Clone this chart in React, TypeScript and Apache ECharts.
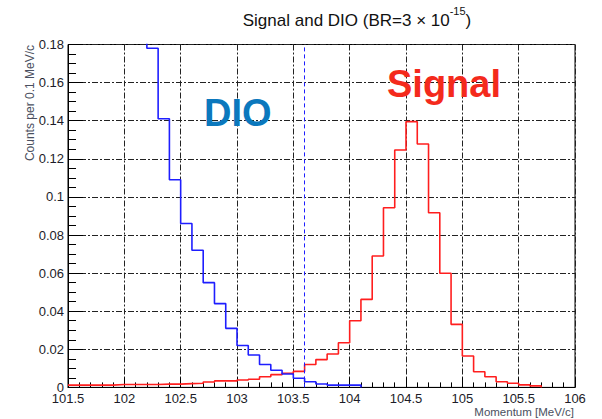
import React, { useEffect, useRef } from "react";
import * as echarts from "echarts";

// Histogram bins (0.1 MeV/c wide), values per bin
const binWidth = 0.1;
const signalStart = 101.5;
const signalValues = [
  0.0012, 0.0012, 0.0012, 0.0012, 0.0015, 0.0015, 0.0015, 0.0015, 0.0017, 0.0017,
  0.002, 0.0022, 0.0028, 0.0034, 0.0034, 0.0039, 0.0043, 0.0056, 0.0067, 0.0074,
  0.0084, 0.012, 0.0146, 0.0175, 0.0234, 0.035, 0.0462, 0.069, 0.0943, 0.1246,
  0.1395, 0.1278, 0.0917, 0.0599, 0.0331, 0.0165, 0.0082, 0.0056, 0.003, 0.0022,
  0.0013, 0.0008,
];
const dioStart = 102.1;
const dioValues = [
  0.22, 0.178, 0.141, 0.109, 0.086, 0.072, 0.055, 0.044, 0.031, 0.022,
  0.017, 0.012, 0.009, 0.007, 0.0048, 0.003, 0.0018, 0.0012, 0.0012, 0.0012,
];
const cutMomentum = 103.6;
const xMin = 101.5;
const xMax = 106;
const xStep = 0.5;
const yMin = 0;
const yMax = 0.18;
const yStep = 0.02;

function histPoints(start: number, values: number[]) {
  const pts: [number, number][] = values.map((v, i) => [
    +(start + i * binWidth).toFixed(2),
    v,
  ]);
  const end = +(start + values.length * binWidth).toFixed(2);
  pts.push([end, values[values.length - 1]]);
  pts.push([end, 0]);
  return pts;
}

const FONT = "'Liberation Sans', Arial, Helvetica, sans-serif";

export default function App() {
  const ref = useRef<HTMLDivElement>(null);
  useEffect(() => {
    if (!ref.current) return;
    const chart = echarts.init(ref.current, undefined, { renderer: "svg" });
    const gridLine = { color: "#222", width: 1, type: [6, 2, 2, 2] as any };
    chart.setOption({
      animation: false,
      backgroundColor: "#fff",
      textStyle: { fontFamily: FONT },
      grid: {
        left: 68,
        right: 27,
        top: 44.5,
        bottom: 31.6,
        show: true,
        borderColor: "#000",
        borderWidth: 1,
        backgroundColor: "transparent",
      },
      title: {
        text: "{a|Signal and DIO (BR=3 × 10}{s|-15}{a|)}",
        left: 352,
        top: 0,
        textAlign: "center",
        textStyle: {
          fontWeight: "normal",
          rich: {
            a: { fontSize: 17, fontWeight: "normal", color: "#111", fontFamily: FONT, lineHeight: 24, verticalAlign: "bottom" },
            s: { fontSize: 11, fontWeight: "normal", color: "#111", fontFamily: FONT, lineHeight: 24, verticalAlign: "top", padding: [0, 0, 10, 0] },
          },
        },
      },
      xAxis: {
        type: "value",
        min: xMin,
        max: xMax,
        interval: xStep,
        axisLine: { show: true, lineStyle: { color: "#000", width: 1 } },
        axisTick: { show: true, inside: true, length: 10, lineStyle: { color: "#000" } },
        minorTick: { show: true, splitNumber: 5, length: 5, lineStyle: { color: "#000" } },
        splitLine: { show: true, lineStyle: gridLine },
        axisLabel: { fontSize: 13, color: "#1c1c28", margin: 5, fontFamily: FONT },
      },
      yAxis: {
        type: "value",
        min: yMin,
        max: yMax,
        interval: yStep,
        axisLine: { show: true, lineStyle: { color: "#000", width: 1 } },
        axisTick: { show: true, inside: true, length: 15, lineStyle: { color: "#000" } },
        minorTick: { show: true, splitNumber: 4, length: 8, lineStyle: { color: "#000" } },
        splitLine: { show: true, lineStyle: gridLine },
        axisLabel: { fontSize: 13, color: "#1c1c28", margin: 4, fontFamily: FONT },
      },
      series: [
        {
          name: "Signal",
          type: "line",
          step: "end",
          symbol: "none",
          clip: true,
          lineStyle: { color: "#ff1e1e", width: 1.6 },
          data: histPoints(signalStart, signalValues),
          z: 3,
        },
        {
          name: "DIO",
          type: "line",
          step: "end",
          symbol: "none",
          clip: true,
          lineStyle: { color: "#1e1eff", width: 1.6 },
          data: histPoints(dioStart, dioValues),
          z: 4,
          markLine: {
            silent: true,
            symbol: ["none", "none"],
            label: { show: false },
            lineStyle: { color: "#1e1eff", width: 1, type: [4, 3] },
            data: [{ xAxis: cutMomentum }],
          },
        },
      ],
      graphic: [
        {
          type: "text",
          x: 30,
          y: 45,
          rotation: Math.PI / 2,
          style: {
            text: "Counts per 0.1 MeV/c",
            fontSize: 12,
            fontFamily: FONT,
            fill: "#4a5060",
            align: "right",
            verticalAlign: "middle",
          },
        },
        {
          type: "text",
          x: 574,
          y: 412,
          style: {
            text: "Momentum [MeV/c]",
            fontSize: 11.5,
            fontFamily: FONT,
            fill: "#4a5060",
            align: "right",
            verticalAlign: "middle",
          },
        },
        {
          type: "text",
          x: 204,
          y: 113,
          z: 10,
          style: {
            text: "DIO",
            fontSize: 38,
            fontWeight: "bold",
            fontFamily: FONT,
            fill: "#0b78bd",
            align: "left",
            verticalAlign: "middle",
          },
        },
        {
          type: "text",
          x: 387,
          y: 84,
          z: 10,
          style: {
            text: "Signal",
            fontSize: 38,
            fontWeight: "bold",
            fontFamily: FONT,
            fill: "#f42a1c",
            align: "left",
            verticalAlign: "middle",
          },
        },
      ],
    });
    return () => chart.dispose();
  }, []);
  return (
    <div
      ref={ref}
      style={{ position: "fixed", left: 0, top: 0, width: 602, height: 419 }}
    />
  );
}
